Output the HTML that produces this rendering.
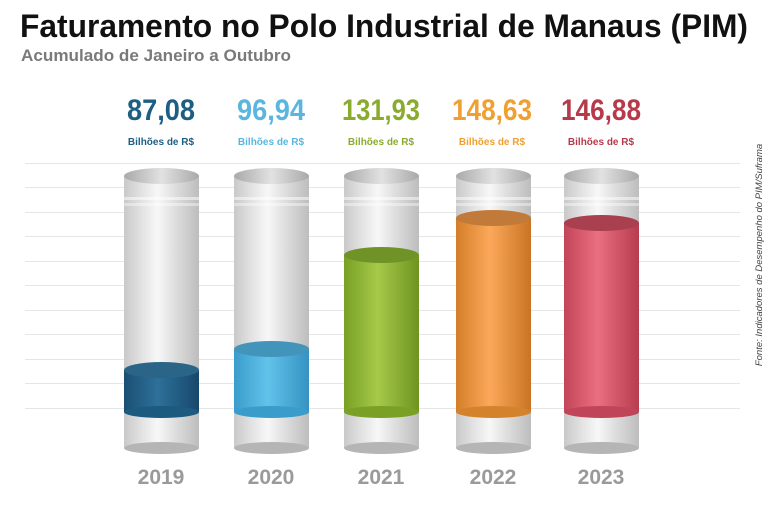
<!DOCTYPE html>
<html><head><meta charset="utf-8"><style>
html,body{margin:0;padding:0;background:#fff;}
svg{display:block;font-family:"Liberation Sans",sans-serif;}
</style></head><body>
<svg width="768" height="509" viewBox="0 0 768 509">
<defs>
<linearGradient id="glass" x1="0" x2="1" y1="0" y2="0">
<stop offset="0" stop-color="#c9c9c9"/><stop offset="0.25" stop-color="#e4e4e4"/>
<stop offset="0.45" stop-color="#f7f7f7"/><stop offset="0.7" stop-color="#dcdcdc"/>
<stop offset="1" stop-color="#bdbdbd"/></linearGradient>
<linearGradient id="topg" x1="0" x2="1"><stop offset="0" stop-color="#a9a9a9"/><stop offset="0.5" stop-color="#e2e2e2"/><stop offset="1" stop-color="#a9a9a9"/></linearGradient>
<linearGradient id="g0" x1="0" x2="1"><stop offset="0" stop-color="#1b4f73"/><stop offset="0.45" stop-color="#2d7099"/><stop offset="1" stop-color="#17486b"/></linearGradient>
<linearGradient id="g1" x1="0" x2="1"><stop offset="0" stop-color="#3a9ccb"/><stop offset="0.45" stop-color="#62c3ea"/><stop offset="1" stop-color="#3592c2"/></linearGradient>
<linearGradient id="g2" x1="0" x2="1"><stop offset="0" stop-color="#78a024"/><stop offset="0.45" stop-color="#a6c94a"/><stop offset="1" stop-color="#6e9420"/></linearGradient>
<linearGradient id="g3" x1="0" x2="1"><stop offset="0" stop-color="#d37e28"/><stop offset="0.45" stop-color="#fca85a"/><stop offset="1" stop-color="#c97424"/></linearGradient>
<linearGradient id="g4" x1="0" x2="1"><stop offset="0" stop-color="#c24558"/><stop offset="0.45" stop-color="#ea6f80"/><stop offset="1" stop-color="#b63c4e"/></linearGradient>
</defs>
<text x="20" y="37" font-size="32" font-weight="bold" fill="#111" textLength="728" lengthAdjust="spacingAndGlyphs">Faturamento no Polo Industrial de Manaus (PIM)</text>
<text x="21" y="61" font-size="17" font-weight="bold" fill="#7a7a7a" textLength="270" lengthAdjust="spacingAndGlyphs">Acumulado de Janeiro a Outubro</text>
<g stroke="#e6e6e6" stroke-width="1">
<line x1="25" x2="740" y1="163.5" y2="163.5"/><line x1="25" x2="740" y1="187.5" y2="187.5"/>
<line x1="25" x2="740" y1="212.5" y2="212.5"/><line x1="25" x2="740" y1="236.5" y2="236.5"/>
<line x1="25" x2="740" y1="261.5" y2="261.5"/><line x1="25" x2="740" y1="285.5" y2="285.5"/>
<line x1="25" x2="740" y1="310.5" y2="310.5"/><line x1="25" x2="740" y1="334.5" y2="334.5"/>
<line x1="25" x2="740" y1="359.5" y2="359.5"/><line x1="25" x2="740" y1="383.5" y2="383.5"/>
<line x1="25" x2="740" y1="408.5" y2="408.5"/>
</g>
<text transform="translate(762,255) rotate(-90)" font-size="9.5" font-style="italic" fill="#444" text-anchor="middle">Fonte: Indicadores de Desempenho do PIM/Suframa</text>

<g id="cyls"></g>
<!-- cylinders -->
<g>
<!-- template per cylinder: x, fill top -->
<g transform="translate(124,0)">
<rect x="0" y="176" width="75" height="272" fill="url(#glass)"/>
<ellipse cx="37.5" cy="448" rx="37.5" ry="6" fill="#b5b5b5"/>
<rect x="0" y="197" width="75" height="3" fill="#fff" opacity="0.5"/><rect x="0" y="203" width="75" height="3" fill="#fff" opacity="0.4"/>
<rect x="0" y="370" width="75" height="42" fill="url(#g0)"/>
<ellipse cx="37.5" cy="412" rx="37.5" ry="6" fill="#1d5a80"/>
<ellipse cx="37.5" cy="370" rx="37.5" ry="8" fill="#2a6587"/>
<ellipse cx="37.5" cy="176" rx="37.5" ry="8" fill="url(#topg)"/>
</g>
<g transform="translate(234,0)">
<rect x="0" y="176" width="75" height="272" fill="url(#glass)"/>
<ellipse cx="37.5" cy="448" rx="37.5" ry="6" fill="#b5b5b5"/>
<rect x="0" y="197" width="75" height="3" fill="#fff" opacity="0.5"/><rect x="0" y="203" width="75" height="3" fill="#fff" opacity="0.4"/>
<rect x="0" y="349" width="75" height="63" fill="url(#g1)"/>
<ellipse cx="37.5" cy="412" rx="37.5" ry="6" fill="#3a9ccb"/>
<ellipse cx="37.5" cy="349" rx="37.5" ry="8" fill="#4394bb"/>
<ellipse cx="37.5" cy="176" rx="37.5" ry="8" fill="url(#topg)"/>
</g>
<g transform="translate(344,0)">
<rect x="0" y="176" width="75" height="272" fill="url(#glass)"/>
<ellipse cx="37.5" cy="448" rx="37.5" ry="6" fill="#b5b5b5"/>
<rect x="0" y="197" width="75" height="3" fill="#fff" opacity="0.5"/><rect x="0" y="203" width="75" height="3" fill="#fff" opacity="0.4"/>
<rect x="0" y="255" width="75" height="157" fill="url(#g2)"/>
<ellipse cx="37.5" cy="412" rx="37.5" ry="6" fill="#7aa126"/>
<ellipse cx="37.5" cy="255" rx="37.5" ry="8" fill="#6f9326"/>
<ellipse cx="37.5" cy="176" rx="37.5" ry="8" fill="url(#topg)"/>
</g>
<g transform="translate(456,0)">
<rect x="0" y="176" width="75" height="272" fill="url(#glass)"/>
<ellipse cx="37.5" cy="448" rx="37.5" ry="6" fill="#b5b5b5"/>
<rect x="0" y="197" width="75" height="3" fill="#fff" opacity="0.5"/><rect x="0" y="203" width="75" height="3" fill="#fff" opacity="0.4"/>
<rect x="0" y="218" width="75" height="194" fill="url(#g3)"/>
<ellipse cx="37.5" cy="412" rx="37.5" ry="6" fill="#d4832c"/>
<ellipse cx="37.5" cy="218" rx="37.5" ry="8" fill="#c17a3a"/>
<ellipse cx="37.5" cy="176" rx="37.5" ry="8" fill="url(#topg)"/>
</g>
<g transform="translate(564,0)">
<rect x="0" y="176" width="75" height="272" fill="url(#glass)"/>
<ellipse cx="37.5" cy="448" rx="37.5" ry="6" fill="#b5b5b5"/>
<rect x="0" y="197" width="75" height="3" fill="#fff" opacity="0.5"/><rect x="0" y="203" width="75" height="3" fill="#fff" opacity="0.4"/>
<rect x="0" y="223" width="75" height="189" fill="url(#g4)"/>
<ellipse cx="37.5" cy="412" rx="37.5" ry="6" fill="#c04558"/>
<ellipse cx="37.5" cy="223" rx="37.5" ry="8" fill="#a8404f"/>
<ellipse cx="37.5" cy="176" rx="37.5" ry="8" fill="url(#topg)"/>
</g>
</g>

<g font-weight="bold" text-anchor="middle">
<text x="161" y="120" font-size="30" fill="#1d5e85" textLength="68" lengthAdjust="spacingAndGlyphs">87,08</text>
<text x="271" y="120" font-size="30" fill="#5bb6df" textLength="68" lengthAdjust="spacingAndGlyphs">96,94</text>
<text x="381" y="120" font-size="30" fill="#8aab2e" textLength="78" lengthAdjust="spacingAndGlyphs">131,93</text>
<text x="492" y="120" font-size="30" fill="#f0a030" textLength="80" lengthAdjust="spacingAndGlyphs">148,63</text>
<text x="601" y="120" font-size="30" fill="#b63a4a" textLength="80" lengthAdjust="spacingAndGlyphs">146,88</text>
<g font-size="10">
<text x="161" y="145" fill="#1d5e85">Bilhões de R$</text>
<text x="271" y="145" fill="#5bb6df">Bilhões de R$</text>
<text x="381" y="145" fill="#8aab2e">Bilhões de R$</text>
<text x="492" y="145" fill="#f0a030">Bilhões de R$</text>
<text x="601" y="145" fill="#b63a4a">Bilhões de R$</text>
</g>
<g font-size="21" fill="#9a9a9a">
<text x="161" y="484">2019</text>
<text x="271" y="484">2020</text>
<text x="381" y="484">2021</text>
<text x="493" y="484">2022</text>
<text x="601" y="484">2023</text>
</g>
</g>
</svg>
</body></html>
